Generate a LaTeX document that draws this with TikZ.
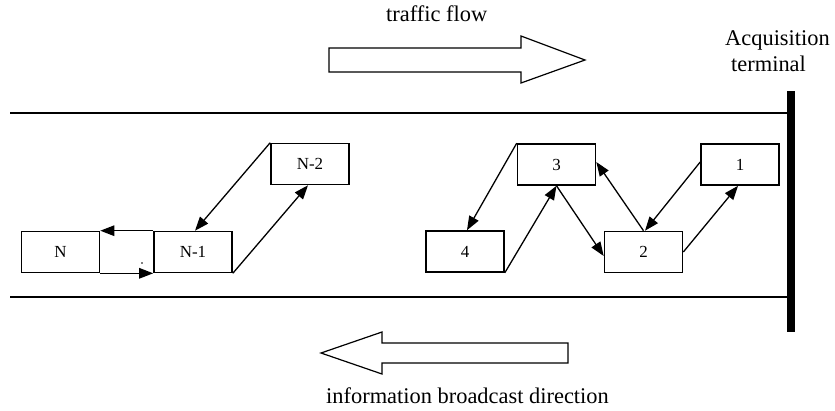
\documentclass[tikz,border=0pt]{standalone}
\usepackage{fontspec}
\setmainfont{Liberation Serif}
\usetikzlibrary{arrows.meta}
\begin{document}
\begin{tikzpicture}[x=1bp,y=-1bp,
  carbox/.style={draw,line width=1.6bp,minimum width=78bp,minimum height=41bp,inner sep=0pt,font=\fontsize{17}{19}\selectfont},
  arr/.style={line width=1.3bp,-{Triangle[length=14bp,width=10.5bp]}},
  road/.style={line width=1.6bp},
  bigarrow/.style={draw,line width=1.2bp,fill=white},
  lbl/.style={font=\fontsize{22.5}{27}\selectfont,inner sep=0pt}]
\useasboundingbox (0,0) rectangle (835,410);
% road
\draw[road] (10,113) -- (788,113);
\draw[road] (10,297) -- (788,297);
\fill (787,91) rectangle (795,332);
% big arrows
\draw[bigarrow] (329,48) -- (521,48) -- (521,36) -- (585,60) -- (521,83) -- (521,72) -- (329,72) -- cycle;
\draw[bigarrow] (568,343) -- (382,343) -- (382,332) -- (321,353) -- (382,374) -- (382,363) -- (568,363) -- cycle;
% labels
\node[lbl,anchor=base west] (tf) at (386,21) {traffic flow};
\node[lbl,anchor=base west] (acq) at (725,45) {Acquisition};
\node[lbl,anchor=base west] (term) at (731,71) {terminal};
\node[lbl,anchor=base west] (ibd) at (326,403) {information broadcast direction};
% vehicles
\node[carbox] (N) at (60.5,252) {N};
\node[carbox] (N1) at (193,252) {N-1};
\node[carbox] (N2) at (310,164) {N-2};
\node[carbox] (v4) at (465,251.5) {4};
\node[carbox] (v3) at (556.5,164.5) {3};
\node[carbox] (v2) at (643.5,252) {2};
\node[carbox] (v1) at (740,164.5) {1};
% connectors
\draw[arr] (N2.north west) -- ([xshift=2bp]N1.north);
\draw[arr] (N1.south east) -- ([xshift=-2bp]N2.south);
\draw[arr] (N1.north west) -- (N.north east);
\draw[arr] (N.south east) -- (N1.south west);
\fill (142,263) circle (0.8bp);
\draw[arr] (v3.north west) -- ([xshift=2bp]v4.north);
\draw[arr] (v4.south east) -- (v3.south);
\draw[arr] (v3.south) -- ([yshift=-4bp]v2.west);
\draw[arr] (v2.north) -- ([yshift=2.5bp]v3.east);
\draw[arr] ([yshift=2.5bp]v1.west) -- ([xshift=1.5bp]v2.north);
\draw[arr] (v2.east) -- ([xshift=-2bp]v1.south);
\end{tikzpicture}
\end{document}
